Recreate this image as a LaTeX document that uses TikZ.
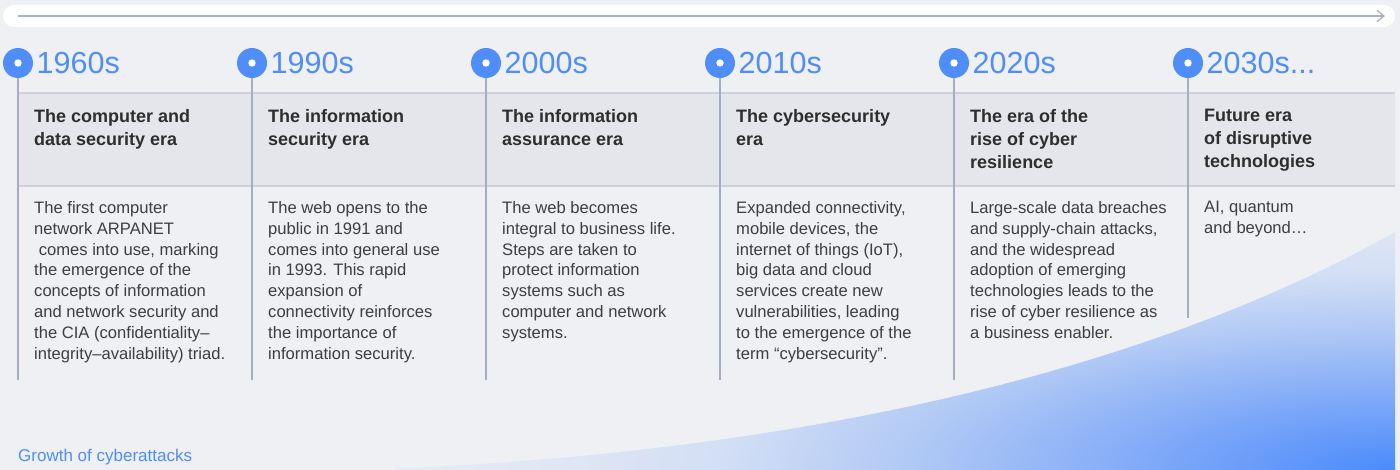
\documentclass[tikz,border=0pt]{standalone}
\usepackage{fontspec}
\setmainfont{Liberation Sans}
\usetikzlibrary{arrows.meta}
\definecolor{bgc}{HTML}{EFF0F4}
\definecolor{bandc}{HTML}{E4E6EB}
\definecolor{bandline}{HTML}{CCD1DA}
\definecolor{vline}{HTML}{A3AEC2}
\definecolor{arrowc}{HTML}{A9B2C3}
\definecolor{accent}{HTML}{4F8EF8}
\definecolor{headc}{HTML}{2E2E2E}
\definecolor{bodyc}{HTML}{3E3E3E}
\definecolor{gA}{HTML}{4A8BFB}
\definecolor{gB}{HTML}{7EA8F8}
\definecolor{gC}{HTML}{AFC8F5}
\definecolor{gD}{HTML}{D3DFF5}
\definecolor{gE}{HTML}{E0E6F4}
\definecolor{gF}{HTML}{E8EBF4}
\pgfdeclareradialshading{glow}{\pgfpoint{0bp}{0bp}}{color(0bp)=(gA); color(6bp)=(gB); color(12bp)=(gC); color(17bp)=(gD); color(21bp)=(gE); color(25bp)=(gF); color(50bp)=(gF)}
\tikzset{
  yearlabel/.style={anchor=base west, inner sep=0pt, text=accent, font=\fontsize{30.5}{36}\selectfont},
  dotmark/.style={circle, fill=accent, minimum size=30pt, inner sep=0pt,
    path picture={\fill[white] (path picture bounding box.center) circle (3.7);}},
  headtext/.style={anchor=north west, inner sep=0pt, align=left, text=headc, font=\fontsize{18}{23}\selectfont\bfseries},
  bodytext/.style={anchor=north west, inner sep=0pt, align=left, text=bodyc, font=\fontsize{16.6}{20.8}\selectfont},
  stem/.style={draw=vline, line width=1.2pt},
}
\begin{document}
\begin{tikzpicture}[x=1pt,y=-1pt]
\useasboundingbox (0,0) rectangle (1400,470);
\fill[bgc] (0,0) rectangle (1400,470);
% growth gradient
\begin{scope}
\clip (360,470) .. controls (800,455) and (1150,370) .. (1395,232) -- (1395,470) -- cycle;
\shade[shading=glow] (1395,470) ellipse [x radius=1000, y radius=290];
\end{scope}
% top timeline bar
\fill[white, rounded corners=11pt] (3,5) rectangle (1395,27);
\coordinate (ta) at (18,16);
\coordinate (tb) at (1385,16);
\draw[draw=arrowc, line width=1.3pt, -{Straight Barb[length=7pt,width=11pt]}] (ta) -- (tb);
% header band
\fill[bandc] (18,93) rectangle (1395,186);
\draw[draw=bandline, line width=1.2pt] (18,93) -- (1395,93);
\draw[draw=bandline, line width=1.2pt] (18,186) -- (1395,186);
% stems and dots
\foreach \i/\x/\e in {1/18/380, 2/252/380, 3/486/380, 4/720/380, 5/954/380, 6/1188/318}{
  \coordinate (e\i) at (\x,\e);
  \node[dotmark] (c\i) at (\x,63) {};
  \draw[stem] (c\i.south) -- (e\i);
}
% years
\node[yearlabel] (y1) at (36.5,74) {1960s};
\node[yearlabel] (y2) at (270.5,74) {1990s};
\node[yearlabel] (y3) at (504.5,74) {2000s};
\node[yearlabel] (y4) at (738.5,74) {2010s};
\node[yearlabel] (y5) at (972.5,74) {2020s};
\node[yearlabel] (y6) at (1206.5,74) {2030s...};
% headings
\node[headtext] (h1) at (34,108.9) {The computer and\\data security era};
\node[headtext] (h2) at (268,108.9) {The information\\security era};
\node[headtext] (h3) at (502,108.9) {The information\\assurance era};
\node[headtext] (h4) at (736,108.9) {The cybersecurity\\era};
\node[headtext] (h5) at (970,108.9) {The era of the\\rise of cyber\\resilience};
\node[headtext] (h6) at (1204,109.2) {Future era\\of disruptive\\technologies};
% bodies
\node[bodytext] (b1) at (34,201.3) {The first computer\\network ARPANET\\\mbox{}\ comes into use, marking\\the emergence of the\\concepts of information\\and network security and\\the CIA (confidentiality–\\integrity–availability) triad.};
\node[bodytext] (b2) at (268,201.3) {The web opens to the\\public in 1991 and\\comes into general use\\in 1993. This rapid\\expansion of\\connectivity reinforces\\the importance of\\information security.};
\node[bodytext] (b3) at (502,201.3) {The web becomes\\integral to business life.\\Steps are taken to\\protect information\\systems such as\\computer and network\\systems.};
\node[bodytext] (b4) at (736,201.3) {Expanded connectivity,\\mobile devices, the\\internet of things (IoT),\\big data and cloud\\services create new\\vulnerabilities, leading\\to the emergence of the\\term “cybersecurity”.};
\node[bodytext] (b5) at (970,201.3) {Large-scale data breaches\\and supply-chain attacks,\\and the widespread\\adoption of emerging\\technologies leads to the\\rise of cyber resilience as\\a business enabler.};
\node[bodytext] (b6) at (1204,201.3) {AI, quantum\\and beyond…};
% footer label
\node[anchor=base west, inner sep=0pt, text=accent, font=\fontsize{17}{20}\selectfont] (growth) at (18,461) {Growth of cyberattacks};
\end{tikzpicture}
\end{document}
